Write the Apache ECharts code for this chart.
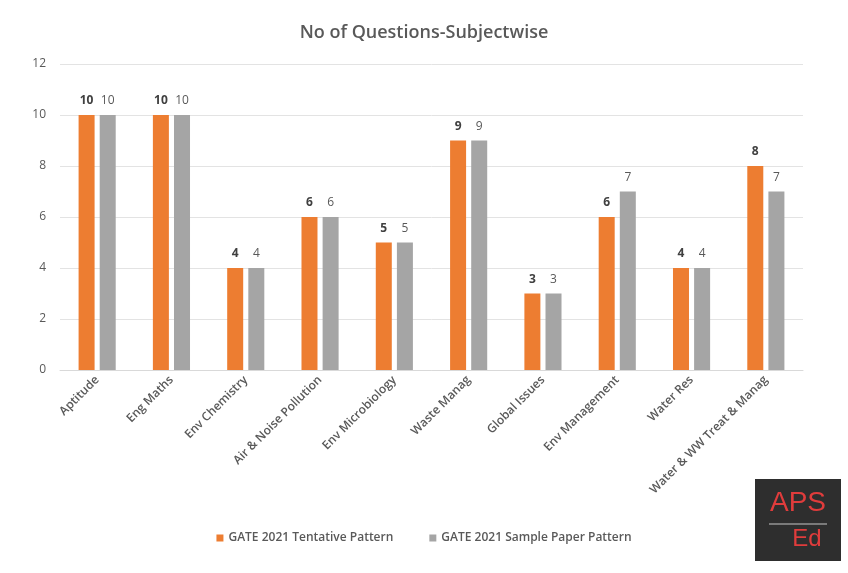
<!DOCTYPE html>
<html><head><meta charset="utf-8">
<script src="https://cdn.jsdelivr.net/npm/echarts@6/dist/echarts.min.js"></script>
<style>html,body{margin:0;padding:0;background:#fff}#c{width:848px;height:573px}</style>
</head><body><div id="c"></div>
<script>
const categories = ["Aptitude","Eng Maths","Env Chemistry","Air & Noise Pollution","Env Microbiology","Waste Manag","Global Issues","Env Management","Water Res","Water & WW Treat & Manag"];
const tentative = [10,10,4,6,5,9,3,6,4,8];
const sample = [10,10,4,6,5,9,3,7,4,7];
const seriesNames = ["GATE 2021 Tentative Pattern","GATE 2021 Sample Paper Pattern"];
const yTicks = [0,2,4,6,8,10,12];

const chart = echarts.init(document.getElementById('c'));
const font = "'Open Sans', 'Liberation Sans', sans-serif";
chart.setOption({
  backgroundColor: '#fff',
  animation: false,
  title: {
    text: 'No of Questions-Subjectwise',
    left: 'center', top: 19,
    textStyle: {fontFamily: font, fontSize: 18, fontWeight: 600, color: '#595959'}
  },
  legend: {
    data: seriesNames,
    bottom: 24, left: 'center',
    itemWidth: 7, itemHeight: 7, itemGap: 36,
    icon: 'rect',
    textStyle: {fontFamily: font, fontSize: 12, fontWeight: 600, color: '#595959'}
  },
  grid: {left: 60, right: 45, top: 64, bottom: 203, containLabel: false},
  xAxis: {
    type: 'category', data: categories,
    axisLine: {lineStyle: {color: '#d9d9d9'}},
    axisTick: {show: false},
    axisLabel: {rotate: 45, interval: 0, fontFamily: font, fontSize: 12, fontWeight: 600, color: '#595959', margin: 8}
  },
  yAxis: {
    type: 'value', min: yTicks[0], max: yTicks[yTicks.length-1], interval: 2,
    axisLine: {show: false}, axisTick: {show: false},
    splitLine: {lineStyle: {color: '#e3e3e3'}},
    axisLabel: {fontFamily: font, fontSize: 12, color: '#595959', margin: 14}
  },
  series: [
    {name: seriesNames[0], type: 'bar', data: tentative, barWidth: 16, barGap: '32%',
     itemStyle: {color: '#ed7d31'},
     label: {show: true, position: 'top', distance: 8, fontFamily: font, fontSize: 12, fontWeight: 'bold', color: '#404040'}},
    {name: seriesNames[1], type: 'bar', data: sample, barWidth: 16,
     itemStyle: {color: '#a5a5a5'},
     label: {show: true, position: 'top', distance: 8, fontFamily: font, fontSize: 12, color: '#595959'}}
  ],
  graphic: [
    {type: 'group', left: 755, top: 479, children: [
      {type: 'rect', shape: {x: 0, y: 0, width: 86, height: 82}, style: {fill: '#2e2e2e'}},
      {type: 'text', x: 43, y: 10, style: {text: 'APS', fill: '#e03c3c', fontFamily: "'Liberation Sans', sans-serif", fontSize: 28, align: 'center', verticalAlign: 'top'}},
      {type: 'rect', shape: {x: 14, y: 44, width: 58, height: 2}, style: {fill: '#7a7a7a'}},
      {type: 'text', x: 52, y: 48, style: {text: 'Ed', fill: '#e03c3c', fontFamily: "'Liberation Sans', sans-serif", fontSize: 24, align: 'center', verticalAlign: 'top'}}
    ]}
  ]
});
</script></body></html>
